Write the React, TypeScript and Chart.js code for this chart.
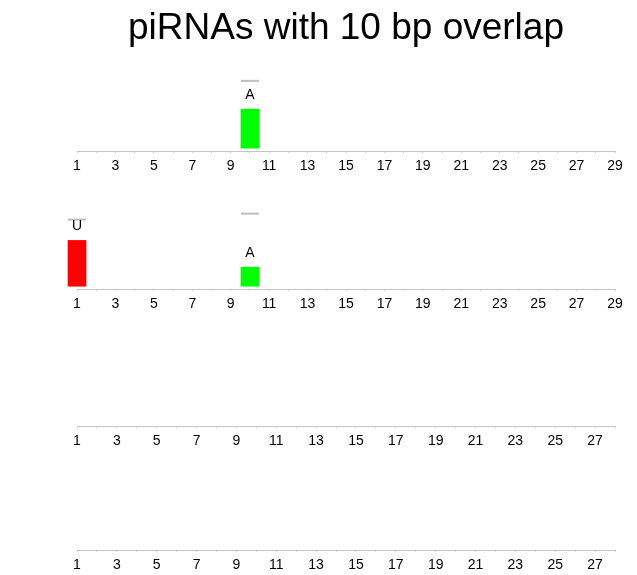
import React, { useEffect, useRef } from "react";
import { Chart, registerables } from "chart.js";

Chart.register(...registerables);

const FONT_FAMILY = '"Liberation Sans", Arial, Helvetica, sans-serif';
Chart.defaults.font.family = FONT_FAMILY;

// ---- data ----
const TITLE = "piRNAs with 10 bp overlap";

const panel1Positions = [10];
const panel1Values = [0.65];
const panel1Upper = [1.12];
const panel1Letters = ["A"];

const panel2Positions = [1, 10];
const panel2Values = [0.77, 0.32];
const panel2Upper = [1.12, 1.22];
const panel2Letters = ["U", "A"];

const panel3Positions: number[] = [];
const panel3Values: number[] = [];
const panel3Upper: number[] = [];
const panel3Letters: string[] = [];

const panel4Positions: number[] = [];
const panel4Values: number[] = [];
const panel4Upper: number[] = [];
const panel4Letters: string[] = [];

const axisMaxes = [29, 29, 28, 28];

const letterColors: Record<string, string> = {
  A: "#00ff00",
  C: "#0000ff",
  G: "#ffa500",
  U: "#ff0000",
  T: "#ff0000",
};

// ---- layout constants ----
const CANVAS_W = 637;
const PLOT_LEFT = 77;
const PLOT_RIGHT = 615;
const TICK_LEN = 2;
const TICK_FONT = 14;
const TICK_PAD = 5;
const AXIS_EXTRA = 6;
const TITLE_SIZE = 37;
const TITLE_PAD_TOP = 7;
const Y_MIN = -0.05;
const Y_MAX = 1.5;

type PanelProps = {
  positions: number[];
  values: number[];
  upper: number[];
  letters: string[];
  xMax: number;
  title?: string;
  top: number;
  height: number;
  chartTop: number;
  axisY: number;
};

function Panel(props: PanelProps) {
  const ref = useRef<HTMLCanvasElement>(null);
  const { positions, values, upper, letters, xMax, title, top, height, chartTop, axisY } = props;

  useEffect(() => {
    const canvas = ref.current;
    if (!canvas) return;
    const axisHeight = TICK_LEN + TICK_FONT * 1.2 + TICK_PAD + AXIS_EXTRA;
    const titleLine = TITLE_SIZE * 1.2;
    let padTop = chartTop - top;
    let titlePadBottom = 0;
    if (title) {
      titlePadBottom = chartTop - top - TITLE_PAD_TOP - titleLine;
      padTop = 0;
    }
    const padBottom = Math.max(0, top + height - axisY - axisHeight);

    const letterPlugin = {
      id: "letters",
      afterDatasetsDraw(chart: any) {
        const meta = chart.getDatasetMeta(0);
        const ctx = chart.ctx as CanvasRenderingContext2D;
        ctx.save();
        ctx.font = `14px ${FONT_FAMILY}`;
        ctx.fillStyle = "#000";
        ctx.textAlign = "center";
        ctx.textBaseline = "middle";
        meta.data.forEach((el: any, i: number) => {
          ctx.fillText(letters[i], el.x, el.y - 14);
        });
        ctx.restore();
      },
    };

    const chart = new Chart(canvas, {
      type: "bar",
      data: {
        datasets: [
          {
            type: "bar",
            data: positions.map((x, i) => ({ x, y: values[i] })),
            backgroundColor: letters.map((l) => letterColors[l] || "#888"),
            borderWidth: 0,
            barThickness: 18,
            clip: false,
            order: 2,
          } as any,
          {
            type: "line",
            data: positions.map((x, i) => ({ x, y: upper[i] })),
            showLine: false,
            pointStyle: "line",
            pointRadius: 9,
            pointHoverRadius: 9,
            pointBorderWidth: 2,
            pointBorderColor: "#bdbdbd",
            pointBackgroundColor: "#bdbdbd",
            clip: false,
            order: 1,
          } as any,
        ],
      },
      options: {
        animation: false,
        responsive: false,
        maintainAspectRatio: false,
        events: [],
        layout: {
          padding: {
            left: PLOT_LEFT,
            right: CANVAS_W - PLOT_RIGHT,
            top: padTop,
            bottom: padBottom,
          },
        },
        plugins: {
          legend: { display: false },
          tooltip: { enabled: false },
          title: {
            display: !!title,
            text: title || "",
            fullSize: false,
            color: "#000",
            font: { size: TITLE_SIZE, weight: "normal", family: FONT_FAMILY },
            padding: { top: TITLE_PAD_TOP, bottom: titlePadBottom },
          },
        },
        scales: {
          x: {
            type: "linear",
            min: 1,
            max: xMax,
            offset: false,
            afterBuildTicks: (axis: any) => {
              const t = [];
              for (let v = 1; v <= xMax; v++) t.push({ value: v });
              axis.ticks = t;
            },
            grid: {
              display: true,
              offset: false,
              drawOnChartArea: false,
              drawTicks: true,
              tickLength: TICK_LEN,
              color: "#d4d4d4",
            },
            border: { display: true, color: "#c4c4c4", width: 1 },
            ticks: {
              autoSkip: false,
              maxRotation: 0,
              padding: TICK_PAD,
              color: "#000",
              font: { size: TICK_FONT, family: FONT_FAMILY },
              callback: (v: any) => (Number(v) % 2 === 1 ? String(v) : ""),
            },
          },
          y: {
            display: false,
            min: Y_MIN,
            max: Y_MAX,
          },
        },
      },
      plugins: [letterPlugin],
    } as any);

    return () => chart.destroy();
  }, []);

  return (
    <canvas
      ref={ref}
      width={CANVAS_W}
      height={height}
      style={{ position: "absolute", left: 0, top, width: CANVAS_W, height, display: "block" }}
    />
  );
}

export default function App() {
  return (
    <div
      style={{
        position: "absolute",
        left: 0,
        top: 0,
        width: CANVAS_W,
        height: 575,
        overflow: "hidden",
        background: "#fff",
      }}
    >
      <Panel
        positions={panel1Positions}
        values={panel1Values}
        upper={panel1Upper}
        letters={panel1Letters}
        xMax={axisMaxes[0]}
        title={TITLE}
        top={0}
        height={180}
        chartTop={58}
        axisY={151}
      />
      <Panel
        positions={panel2Positions}
        values={panel2Values}
        upper={panel2Upper}
        letters={panel2Letters}
        xMax={axisMaxes[1]}
        top={180}
        height={138}
        chartTop={197}
        axisY={290}
      />
      <Panel
        positions={panel3Positions}
        values={panel3Values}
        upper={panel3Upper}
        letters={panel3Letters}
        xMax={axisMaxes[2]}
        top={318}
        height={137}
        chartTop={337}
        axisY={430}
      />
      <Panel
        positions={panel4Positions}
        values={panel4Values}
        upper={panel4Upper}
        letters={panel4Letters}
        xMax={axisMaxes[3]}
        top={455}
        height={128}
        chartTop={456}
        axisY={549}
      />
    </div>
  );
}
